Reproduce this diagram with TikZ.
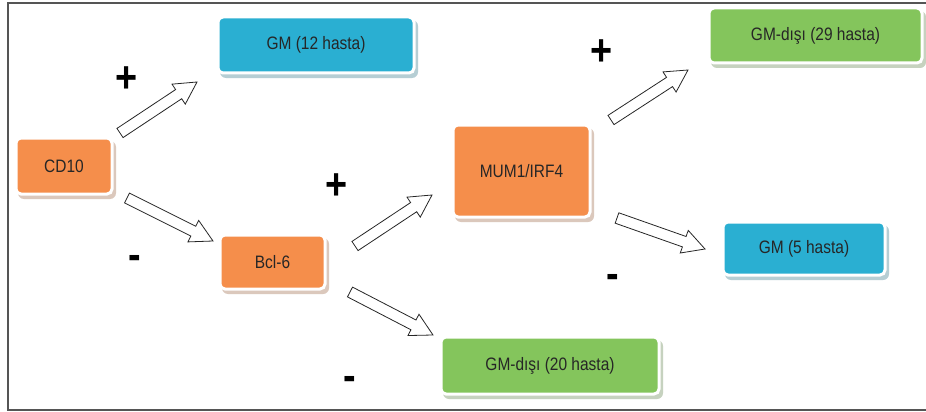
\documentclass[tikz,border=0pt]{standalone}
\usepackage{fontspec}
\setmainfont[FakeStretch=0.86]{Liberation Sans}
\usetikzlibrary{calc}
\definecolor{cblue}{HTML}{2AAFD2}
\definecolor{corange}{HTML}{F58E4B}
\definecolor{cgreen}{HTML}{84C55C}
\definecolor{cframe}{HTML}{555555}
\tikzset{
  boxbase/.style={rectangle, rounded corners=5pt, draw=white, line width=3pt,
    font=\fontsize{18}{21}\selectfont, text=black!85, inner sep=0pt},
  bluebox/.style={boxbase, fill=cblue},
  orangebox/.style={boxbase, fill=corange},
  greenbox/.style={boxbase, fill=cgreen},
  blockarr/.style={draw=black!85, line width=0.8pt, fill=white, line join=miter},
  signlbl/.style={font=\bfseries\fontsize{44}{46}\selectfont, inner sep=0pt},
}
\newcommand\blockarrow[2]{%
  \coordinate (hb) at ($(#2)!22pt!(#1)$);
  \draw[blockarr] ($(#1)!5.5pt!90:(#2)$) -- ($(hb)!5.5pt!-90:(#1)$)
    -- ($(hb)!12pt!-90:(#1)$) -- (#2) -- ($(hb)!12pt!90:(#1)$)
    -- ($(hb)!5.5pt!90:(#1)$) -- ($(#1)!5.5pt!-90:(#2)$) -- cycle;}
\newcommand\shadowbox[4]{% name, colour, width, height
  \fill[#2!40!gray!45!white, rounded corners=6pt]
    ($(#1.center)+(-0.5*#3+2,-0.5*#4+3)$) rectangle ($(#1.center)+(0.5*#3+4,0.5*#4+5)$);}
\begin{document}
\begin{tikzpicture}[x=1pt,y=-1pt]
\useasboundingbox (0,0) rectangle (926,412);
\fill[white] (0,0) rectangle (926,412);
\draw[cframe, line width=1.6pt] (930,3) -- (8,3) -- (8,410) -- (930,410);

% node positions
\coordinate (pGM12) at (316,45);
\coordinate (pCD10) at (64,166);
\coordinate (pGM29) at (815.5,35.5);
\coordinate (pMUM) at (521.5,171);
\coordinate (pBcl) at (272.5,262);
\coordinate (pGM5) at (804,248.5);
\coordinate (pGM20) at (550,365.5);

\shadowbox{pGM12}{cblue}{196}{56}
\shadowbox{pCD10}{corange}{96}{56}
\shadowbox{pGM29}{cgreen}{213}{55}
\shadowbox{pMUM}{corange}{137}{92}
\shadowbox{pBcl}{corange}{105}{54}
\shadowbox{pGM5}{cblue}{162}{53}
\shadowbox{pGM20}{cgreen}{218}{57}

\node[bluebox, minimum width=196pt, minimum height=56pt] (gm12) at (pGM12) {GM (12 hasta)};
\node[orangebox, minimum width=96pt, minimum height=56pt] (cd10) at (pCD10) {CD10};
\node[greenbox, minimum width=213pt, minimum height=55pt] (gm29) at (pGM29) {GM-dışı (29 hasta)};
\node[orangebox, minimum width=137pt, minimum height=92pt] (mum) at (pMUM) {MUM1/IRF4};
\node[orangebox, minimum width=105pt, minimum height=54pt] (bcl) at (pBcl) {Bcl-6};
\node[bluebox, minimum width=162pt, minimum height=53pt] (gm5) at (pGM5) {GM (5 hasta)};
\node[greenbox, minimum width=218pt, minimum height=57pt] (gm20) at (pGM20) {GM-dışı (20 hasta)};

% arrow end points
\coordinate (a1s) at (120,133); \coordinate (a1e) at (197,82);
\coordinate (a2s) at (127,198); \coordinate (a2e) at (213,241);
\coordinate (a3s) at (355,246); \coordinate (a3e) at (432,195);
\coordinate (a4s) at (350,292); \coordinate (a4e) at (433,335);
\coordinate (a5s) at (611,120); \coordinate (a5e) at (688,70);
\coordinate (a6s) at (617,218); \coordinate (a6e) at (705,249);

\blockarrow{a1s}{a1e}
\blockarrow{a2s}{a2e}
\blockarrow{a3s}{a3e}
\blockarrow{a4s}{a4e}
\blockarrow{a5s}{a5e}
\blockarrow{a6s}{a6e}

\node[signlbl] (s1) at (127,80) {+};
\node[signlbl] (s2) at (337,187) {+};
\node[signlbl] (s3) at (602,53) {+};
\node[signlbl] (s4) at (135,262) {-};
\node[signlbl] (s5) at (350,383) {-};
\node[signlbl] (s6) at (613,281) {-};
\end{tikzpicture}
\end{document}
